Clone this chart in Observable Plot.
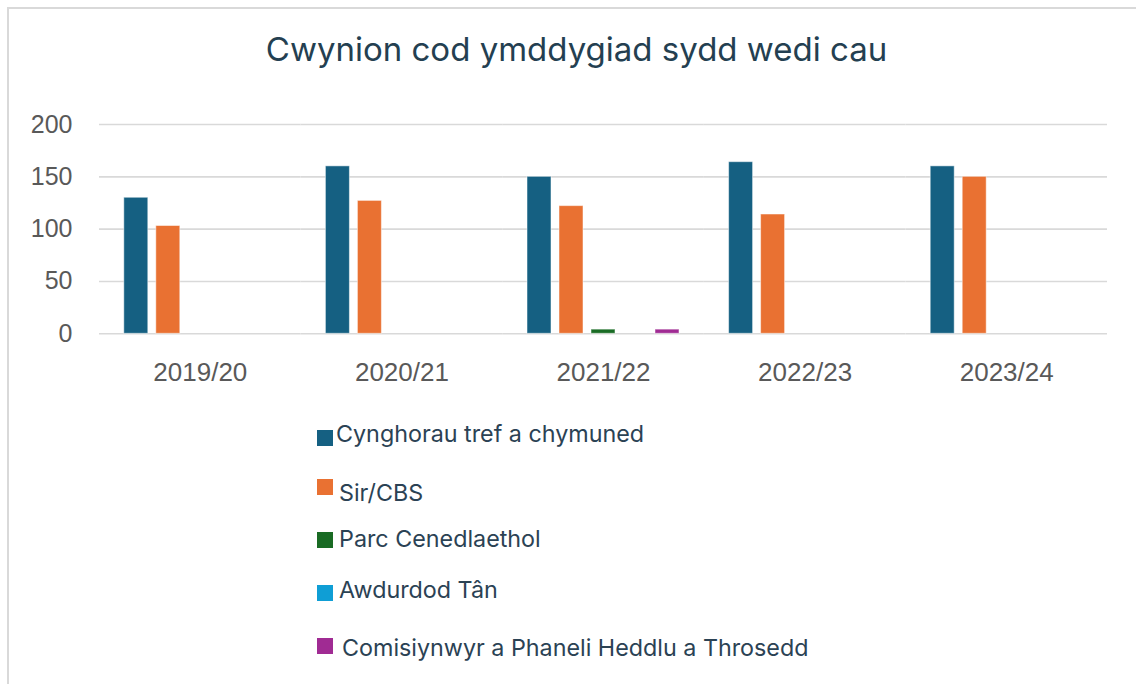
<!DOCTYPE html>
<html>
<head>
<meta charset="utf-8">
<script src="https://cdn.jsdelivr.net/npm/d3@7"></script>
<script src="https://cdn.jsdelivr.net/npm/@observablehq/plot@0.6"></script>
<style>
  html, body { margin: 0; padding: 0; background: #fff; }
  #frame { position: relative; width: 1136px; height: 684px; overflow: hidden; background: #fff; }
  #border { position: absolute; left: 7px; top: 7px; right: -10px; bottom: -10px; border-left: 2px solid #d9d9d9; border-top: 2px solid #d9d9d9; }
  #title { position: absolute; left: 0; width: 1153px; top: 29px; text-align: center; font-family: Inter, "Open Sans", sans-serif; font-size: 33px; color: #243f51; white-space: nowrap; }
  #chart { position: absolute; left: 0; top: 0; }
  .lg { position: absolute; font-family: Inter, "Open Sans", sans-serif; font-size: 23.3px; color: #2b4254; white-space: nowrap; }
  .sw { position: absolute; width: 16px; height: 16px; }
</style>
</head>
<body>
<div id="frame">
  <div id="border"></div>
  <div id="chart"></div>
  <div id="title">Cwynion cod ymddygiad sydd wedi cau</div>
  <div id="legend"></div>
</div>
<script>
const years = ["2019/20", "2020/21", "2021/22", "2022/23", "2023/24"];
const seriesNames = [
  "Cynghorau tref a chymuned",
  "Sir/CBS",
  "Parc Cenedlaethol",
  "Awdurdod Tân",
  "Comisiynwyr a Phaneli Heddlu a Throsedd"
];
const cynghorau = [130, 160, 150, 164, 160];
const sirCBS = [103, 127, 122, 114, 150];
const parc = [0, 0, 4, 0, 0];
const tan = [0, 0, 0, 0, 0];
const comisiynwyr = [0, 0, 4, 0, 0];
const yTicks = [0, 50, 100, 150, 200];
const colors = ["#156082", "#E97132", "#196B24", "#0F9ED5", "#A02B93"];

const seriesValues = [cynghorau, sirCBS, parc, tan, comisiynwyr];
const data = [];
years.forEach((yr, i) => {
  seriesNames.forEach((s, j) => {
    data.push({year: yr, series: s, value: seriesValues[j][i]});
  });
});

const chart = Plot.plot({
  width: 1136,
  height: 400,
  marginLeft: 99,
  marginRight: 29,
  marginTop: 124,
  marginBottom: 66.7,
  style: {background: "transparent", overflow: "visible"},
  fx: {domain: years, padding: 0, round: false, axis: null, label: null},
  x: {domain: seriesNames, paddingInner: 0.25, paddingOuter: 0.775, round: false, axis: null, label: null},
  y: {domain: [0, 200], ticks: yTicks, axis: null, label: null},
  color: {domain: seriesNames, range: colors},
  marks: [
    Plot.gridY(yTicks, {stroke: "#d9d9d9", strokeOpacity: 1, strokeWidth: 1.6}),
    Plot.barY(data.filter(d => d.value > 0), {
      fx: "year", x: "series", y: "value", fill: "series",
      stroke: "#ffffff", strokeOpacity: 0.5, strokeWidth: 1
    }),
    Plot.axisY({
      ticks: yTicks, label: null, tickSize: 0, tickPadding: 27, fontSize: 25,
      fontFamily: "'Liberation Sans', Arial, sans-serif", fill: "#595959"
    }),
    Plot.axisFx({
      anchor: "bottom", label: null, tickSize: 0, tickPadding: 29, fontSize: 26,
      fontFamily: "'Liberation Sans', Arial, sans-serif", fill: "#595959"
    })
  ]
});
document.getElementById("chart").appendChild(chart);

// legend (vertical list below the plot)
const legendRows = [
  {sw: 430, txt: 443, x: 336},
  {sw: 479, txt: 502, x: 339},
  {sw: 532, txt: 548, x: 339},
  {sw: 585, txt: 599, x: 339},
  {sw: 638, txt: 657, x: 342}
];
const legend = document.getElementById("legend");
seriesNames.forEach((s, i) => {
  const r = legendRows[i];
  const sw = document.createElement("div");
  sw.className = "sw";
  sw.style.left = "317px";
  sw.style.top = r.sw + "px";
  sw.style.background = colors[i];
  legend.appendChild(sw);
  const t = document.createElement("div");
  t.className = "lg";
  t.style.left = r.x + "px";
  t.style.top = (r.txt - 24) + "px";
  t.style.lineHeight = "30px";
  t.textContent = s;
  legend.appendChild(t);
});
</script>
</body>
</html>
